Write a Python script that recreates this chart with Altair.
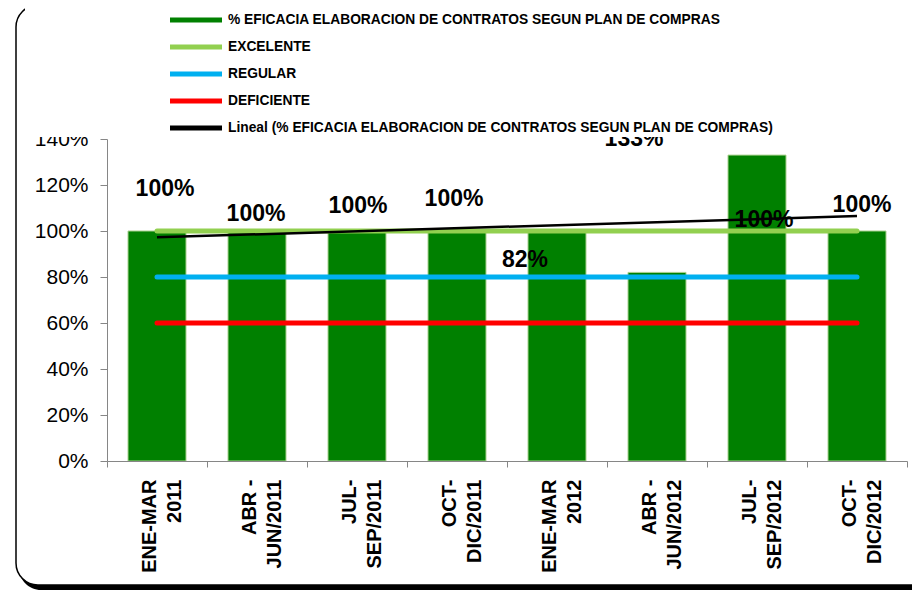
import json
import pandas as pd
import altair as alt

# ---------------- data ----------------
periodos = ["ENE-MAR|2011", "ABR -|JUN/2011", "JUL-|SEP/2011", "OCT-|DIC/2011",
            "ENE-MAR|2012", "ABR -|JUN/2012", "JUL-|SEP/2012", "OCT-|DIC/2012"]
eficacia = [1.00, 1.00, 1.00, 1.00, 1.00, 0.82, 1.33, 1.00]
excelente = [1.00, 1.00, 1.00, 1.00, 1.00, 1.00, 1.00, 1.00]
regular = [0.80, 0.80, 0.80, 0.80, 0.80, 0.80, 0.80, 0.80]
deficiente = [0.60, 0.60, 0.60, 0.60, 0.60, 0.60, 0.60, 0.60]

# data labels as placed in the original (anchor in category units / % units)
etiqueta_valor = [1.00, 1.00, 1.00, 1.00, 0.82, 1.33, 1.00, 1.00]
etiqueta_x = [0.08, 0.99, 2.01, 2.97, 3.68, 4.77, 6.07, 7.05]
etiqueta_y = [1.183, 1.074, 1.109, 1.139, 0.876, 1.40, 1.05, 1.115]

S_BAR = "% EFICACIA ELABORACION DE CONTRATOS SEGUN PLAN DE COMPRAS"
S_EXC = "EXCELENTE"
S_REG = "REGULAR"
S_DEF = "DEFICIENTE"
S_LIN = "Lineal (% EFICACIA ELABORACION DE CONTRATOS SEGUN PLAN DE COMPRAS)"
series = [S_BAR, S_EXC, S_REG, S_DEF, S_LIN]
colores = ["#008000", "#92D050", "#00B0F0", "#FF0000", "#000000"]

FONT = "Liberation Sans"
AXIS_GRAY = "#868686"

df_bar = pd.DataFrame({"periodo": periodos, "valor": eficacia,
                       "serie": S_BAR, "idx": list(range(len(periodos)))})
df_lines = pd.concat([
    pd.DataFrame({"periodo": periodos, "valor": excelente, "serie": S_EXC}),
    pd.DataFrame({"periodo": periodos, "valor": regular, "serie": S_REG}),
    pd.DataFrame({"periodo": periodos, "valor": deficiente, "serie": S_DEF}),
], ignore_index=True)
df_lab = pd.DataFrame({"pos_x": etiqueta_x, "valor": etiqueta_y, "etiqueta": etiqueta_valor})
one = pd.DataFrame({"k": [0]})

# ---------------- encodings ----------------
x_enc = alt.X(
    "periodo:N", sort=periodos,
    scale=alt.Scale(domain=periodos, paddingInner=0, paddingOuter=0),
    axis=alt.Axis(
        title=None, labelExpr="split(datum.label, '|')", labelAngle=270,
        labelAlign="right", labelBaseline="middle", labelFontSize=20,
        labelFontWeight="bold", labelFont=FONT, labelLineHeight=25,
        labelColor="black", labelPadding=12, labelOffset=-8, tickSize=6,
        tickBand="extent", domainColor=AXIS_GRAY, tickColor=AXIS_GRAY,
        grid=False, zindex=1,
    ),
)
y_enc = alt.Y(
    "valor:Q",
    scale=alt.Scale(domain=[0, 1.4], nice=False),
    axis=alt.Axis(
        title=None, values=[0, 0.2, 0.4, 0.6, 0.8, 1.0, 1.2, 1.4], format=".0%",
        labelFontSize=21, labelFont=FONT, labelColor="black", tickSize=7,
        labelPadding=12, domainColor=AXIS_GRAY, tickColor=AXIS_GRAY,
        grid=False, zindex=0,
    ),
)

# ---------------- decoration: rounded frame with bottom shadow ----------------
shadow = alt.Chart(one).mark_rect(fill="black", cornerRadius=22).encode(
    x=alt.value(-88), x2=alt.value(840), y=alt.value(341), y2=alt.value(451))
shadow_cut = alt.Chart(one).mark_rect(fill="white", cornerRadius=22).encode(
    x=alt.value(-91), x2=alt.value(836), y=alt.value(336), y2=alt.value(446))
frame = alt.Chart(one).mark_rect(fill=None, stroke="black", strokeWidth=1.5,
                                 cornerRadius=22).encode(
    x=alt.value(-91), x2=alt.value(836), y=alt.value(-134), y2=alt.value(446))

bars = alt.Chart(df_bar).mark_bar(
    stroke="#A9D08E", strokeWidth=1, width=alt.RelativeBandSize(0.58)
).encode(
    x=x_enc, y=y_enc,
    fill=alt.Fill("serie:N", scale=alt.Scale(domain=series, range=colores),
                  legend=alt.Legend(
                      title=None, orient="none", legendX=76, legendY=-132,
                      symbolType="M-2,-0.2H2V0.2H-2Z", symbolSize=676,
                      symbolStrokeWidth=0, labelFontSize=13.8, labelFontWeight="bold",
                      labelFont=FONT, labelColor="black", labelOffset=19,
                      labelLimit=0, rowPadding=7, padding=0,
                  )),
)

lines = alt.Chart(df_lines).mark_line(strokeWidth=5, strokeCap="round").encode(
    x=x_enc, y=y_enc,
    stroke=alt.Stroke("serie:N",
                      scale=alt.Scale(domain=[S_EXC, S_REG, S_DEF],
                                      range=["#92D050", "#00B0F0", "#FF0000"]),
                      legend=None),
)

trend = alt.Chart(df_bar).transform_regression("idx", "valor").transform_calculate(
    periodo=json.dumps(periodos) + "[datum.idx]"
).mark_line(color="black", strokeWidth=2.5).encode(x=x_enc, y=y_enc)

inner = alt.layer(shadow, shadow_cut, frame, bars, lines, trend)

labels = alt.Chart(df_lab).mark_text(
    fontSize=23, fontWeight="bold", font=FONT, color="black",
    align="center", baseline="middle",
).encode(
    x=alt.X("pos_x:Q", scale=alt.Scale(domain=[-0.5, 7.5], nice=False, zero=False),
            axis=None),
    y=y_enc,
    text=alt.Text("etiqueta:Q", format=".0%"),
)

cover = alt.Chart(one).mark_rect(fill="white").encode(
    x=alt.value(-82), x2=alt.value(683), y=alt.value(-131), y2=alt.value(-2))

chart = alt.layer(inner, labels, cover).resolve_scale(x="independent").properties(
    width=800, height=322,
    autosize=alt.AutoSizeParams(type="none"),
    padding={"left": 99, "top": 131, "right": 5, "bottom": 130},
    background="white",
).configure_view(stroke=None)

chart.save("out.html", embed_options={"renderer": "svg", "actions": False})
